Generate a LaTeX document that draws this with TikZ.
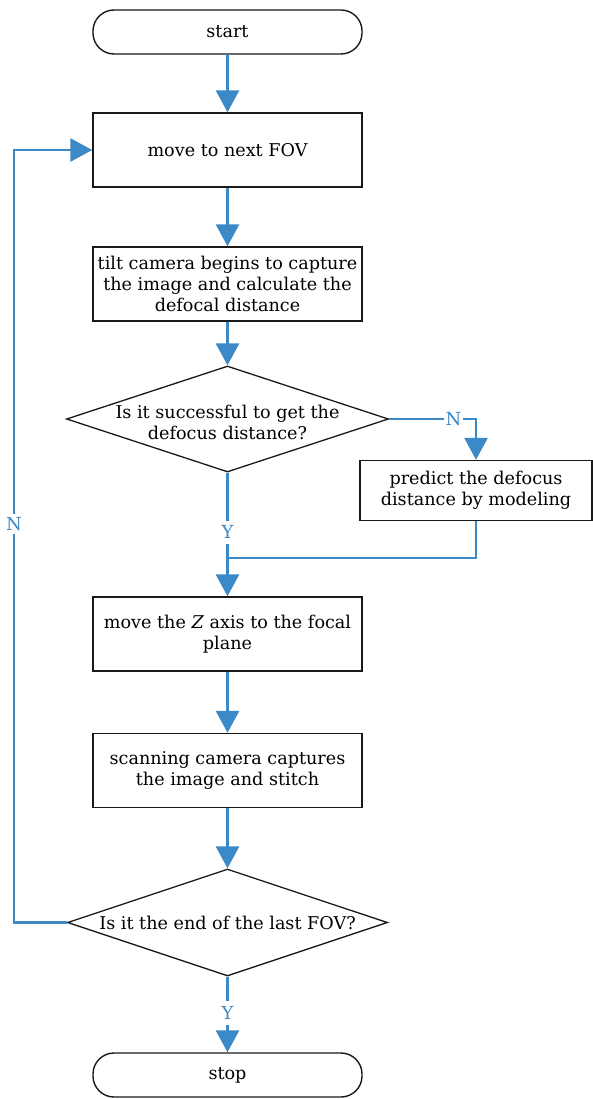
\documentclass[tikz,border=0pt]{standalone}
\usepackage{fontspec}
\setmainfont{DejaVu Serif}
\usetikzlibrary{arrows.meta,shapes.geometric}
\definecolor{flowblue}{RGB}{60,137,199}
\definecolor{boxline}{RGB}{25,25,25}
\begin{document}
\begin{tikzpicture}[x=1pt,y=-1pt,
  txt/.style={font=\fontsize{17.6}{21}\selectfont, align=center},
  term/.style={draw=boxline, line width=1.4pt, rounded corners=21pt, minimum width=269pt, minimum height=44pt, inner sep=0pt, txt},
  proc/.style={draw=boxline, line width=1.4pt, minimum width=269pt, minimum height=74pt, inner sep=0pt, txt},
  dia/.style={draw=boxline, line width=1.3pt, diamond, minimum width=322pt, minimum height=106pt, inner sep=0pt},
  conn/.style={draw=flowblue, line width=2.9pt},
  arr/.style={conn, -{Triangle[width=23pt,length=22pt]}},
  lab/.style={fill=white, text=flowblue, inner sep=3pt, font=\fontsize{18}{20}\selectfont}]
\useasboundingbox (0,0) rectangle (593,1099);
\node[term] (start) at (227.5,32) {start};
\node[proc] (move) at (227.5,150) {move to next FOV};
\node[proc] (tilt) at (227.5,284) {tilt camera begins to capture\\the image and calculate the\\defocal distance};
\node[dia] (d1) at (227.5,419) {};
\node[txt] (d1t) at (227.5,422) {Is it successful to get the\\defocus distance?};
\node[proc, minimum width=232pt, minimum height=60pt] (pred) at (476,490.5) {predict the defocus\\distance by modeling};
\node[proc] (zbox) at (227.5,634) {move the \emph{Z} axis to the focal\\plane};
\node[proc] (scan) at (227.5,770.5) {scanning camera captures\\the image and stitch};
\node[dia, minimum width=320pt, minimum height=107pt] (d2) at (227.5,922.5) {};
\node[txt] (d2t) at (227.5,922.5) {Is it the end of the last FOV?};
\node[term] (stop) at (227.5,1075) {stop};
\coordinate (m) at (227.5,558);
\coordinate (lc) at (14,922.5);
\draw[arr] (start) -- (move);
\draw[arr] (move) -- (tilt);
\draw[arr] (tilt) -- (d1.north);
\draw[arr] (d1.east) -| node[lab,pos=0.37,inner sep=2pt]{N} (pred.north);
\draw[conn] (d1.south) -- node[lab,pos=0.7,inner sep=5pt]{Y} (m);
\draw[conn] (pred.south) |- (m);
\draw[arr] (m) -- (zbox.north);
\draw[arr] (zbox) -- (scan);
\draw[arr] (scan) -- (d2.north);
\draw[arr] (d2.south) -- node[lab,pos=0.48,inner sep=5pt]{Y} (stop.north);
\draw[arr] (d2.west) -- (lc) |- node[lab,pos=0.258]{N} (move.west);
\end{tikzpicture}
\end{document}
